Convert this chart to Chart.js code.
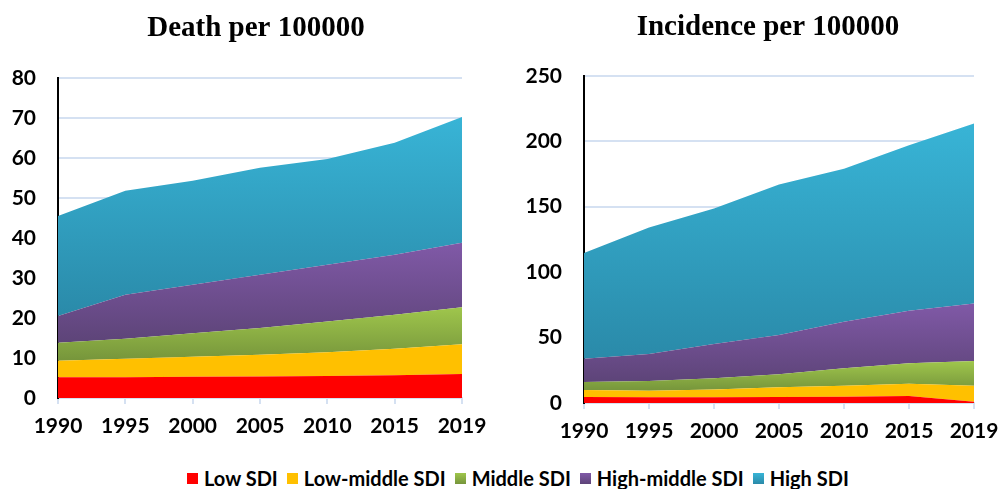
<!DOCTYPE html>
<html>
<head>
<meta charset="utf-8">
<script src="https://cdn.jsdelivr.net/npm/chart.js@4"></script>
<style>
  body { margin: 0; background: #fff; width: 998px; height: 489px; overflow: hidden; position: relative; }
  .box { position: absolute; top: 0; height: 455px; }
  #legend { position: absolute; left: 187px; top: 466px; display: flex; align-items: center;
            font: bold 20px Lato, sans-serif; color: #000; white-space: nowrap; }
  #legend .item { display: flex; align-items: center; margin-right: 9px; }
  #legend .sw { width: 11px; height: 11px; margin-right: 6px; }
</style>
</head>
<body>
<div class="box" style="left:0;width:499px"><canvas id="deathChart"></canvas></div>
<div class="box" style="left:499px;width:499px"><canvas id="incChart"></canvas></div>
<div id="legend"></div>
<script>
// Categories
const years = ['1990', '1995', '2000', '2005', '2010', '2015', '2019'];
const groups = ['Low SDI', 'Low-middle SDI', 'Middle SDI', 'High-middle SDI', 'High SDI'];

// Death per 100000 (stacked)
const deathLow = [5.2, 5.2, 5.3, 5.4, 5.5, 5.7, 6.0];
const deathLowMid = [4.1, 4.6, 5.0, 5.4, 5.9, 6.6, 7.4];
const deathMid = [4.5, 5.0, 5.9, 6.7, 7.7, 8.5, 9.3];
const deathHighMid = [6.7, 11.0, 12.1, 13.3, 14.2, 15.0, 16.1];
const deathHigh = [25.0, 26.0, 26.0, 26.7, 26.4, 28.0, 31.4];

// Incidence per 100000
const incLow = [4.5, 4.4, 4.4, 4.6, 4.8, 5.3, 1.0];
const incLowMid = [5.5, 5.0, 6.0, 7.4, 8.4, 9.4, 12.2];
const incMid = [6.0, 7.4, 8.6, 10.0, 13.3, 15.6, 18.8];
const incHighMid = [17.8, 20.6, 26.0, 30.0, 35.5, 40.2, 44.0];
const incHigh = [80.9, 96.6, 103.6, 115.0, 117.0, 126.5, 137.5];

// [top colour, bottom colour] per group
const groupColors = [
    ['#ff0000', '#ff0000'],
    ['#ffc000', '#ffc000'],
    ['#9fc64c', '#76953b'],
    ['#8059a7', '#5d4478'],
    ['#38b4d6', '#2a8aa9']
];

const tickFont = { family: 'Lato, sans-serif', size: 21, weight: 'bold' };
const gridBlue = '#d5e1f2';

function makeDatasets(series) {
    return series.map((vals, i) => ({
        label: groups[i],
        data: vals,
        fill: i === 0 ? 'origin' : '-1',
        borderWidth: 0,
        pointRadius: 0,
        tension: 0,
        backgroundColor: (ctx) => {
            const chart = ctx.chart;
            const area = chart.chartArea;
            if (!area) return groupColors[i][1];
            // bounding box of this band, for the gradient
            let top = 0, bottom = Infinity;
            vals.forEach((v, k) => {
                let below = 0;
                for (let j = 0; j < i; j++) below += series[j][k];
                top = Math.max(top, below + v);
                bottom = Math.min(bottom, below);
            });
            const y = chart.scales.y;
            const g = chart.ctx.createLinearGradient(0, y.getPixelForValue(top), 0, y.getPixelForValue(bottom));
            g.addColorStop(0, groupColors[i][0]);
            g.addColorStop(1, groupColors[i][1]);
            return g;
        }
    }));
}

// nudge the title sideways a little, the original isn't centred on the plot
const titleShift = {
    id: 'titleShift',
    afterLayout(chart, args, opts) {
        const t = chart.titleBlock;
        if (t) { t.left += opts.dx; t.right += opts.dx; }
    }
};

function makeChart(id, title, series, yMax, step, dims) {
    return new Chart(document.getElementById(id), {
        type: 'line',
        data: { labels: years, datasets: makeDatasets(series) },
        plugins: [titleShift],
        options: {
            responsive: true,
            maintainAspectRatio: false,
            animation: false,
            layout: { padding: { top: 0, left: 0, right: dims.padRight, bottom: 0 } },
            plugins: {
                legend: { display: false },
                tooltip: { enabled: false },
                titleShift: { dx: dims.titleDx },
                title: {
                    display: true,
                    fullSize: false,
                    text: title,
                    color: '#000',
                    font: { family: '"Liberation Serif", serif', size: 29, weight: 'bold' },
                    padding: { top: dims.titleTop, bottom: dims.titleBottom }
                }
            },
            scales: {
                x: {
                    grid: { drawOnChartArea: false, color: gridBlue, lineWidth: 2, tickLength: 6 },
                    border: { color: gridBlue, width: 2 },
                    ticks: { color: '#000', font: tickFont, padding: 10, maxRotation: 0 },
                    afterFit: (s) => { s.height = dims.xHeight; s.paddingLeft = 0; s.paddingRight = 0; }
                },
                y: {
                    stacked: true,
                    min: 0,
                    max: yMax,
                    grid: { color: gridBlue, lineWidth: 2, drawTicks: false },
                    border: { color: '#000', width: 2 },
                    ticks: { stepSize: step, color: '#000', font: tickFont, padding: 22 },
                    afterFit: (s) => { s.width = dims.yWidth; }
                }
            }
        }
    });
}

makeChart('deathChart', 'Death per 100000',
    [deathLow, deathLowMid, deathMid, deathHighMid, deathHigh], 80, 10,
    { yWidth: 58, padRight: 37, titleTop: 11, titleBottom: 32, xHeight: 57, titleDx: -4 });
makeChart('incChart', 'Incidence per 100000',
    [incLow, incLowMid, incMid, incHighMid, incHigh], 250, 50,
    { yWidth: 85, padRight: 24, titleTop: 10, titleBottom: 31, xHeight: 52, titleDx: -11 });

// Shared legend under both charts
const legend = document.getElementById('legend');
groups.forEach((name, i) => {
    const item = document.createElement('div');
    item.className = 'item';
    item.innerHTML = '<span class="sw" style="background:linear-gradient(' +
        groupColors[i][0] + ',' + groupColors[i][1] + ')"></span>' + name;
    legend.appendChild(item);
});
</script>
</body>
</html>
